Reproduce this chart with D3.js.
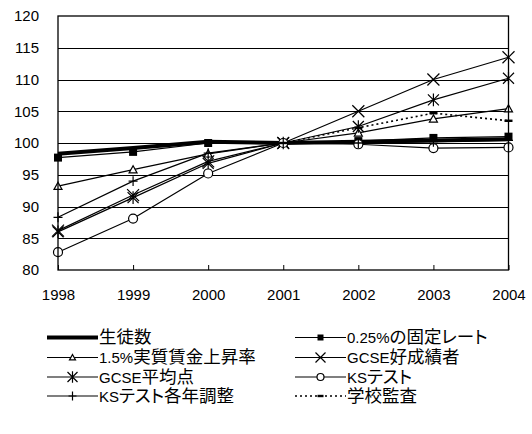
<!DOCTYPE html>
<html>
<head>
<meta charset="utf-8">
<script src="https://cdn.jsdelivr.net/npm/d3@7"></script>
<style>
  html, body { margin: 0; padding: 0; background: #fff; }
  svg { display: block; }
  .cjk { font-family: "Noto Sans CJK JP", sans-serif; font-feature-settings: "palt"; }
  .lat { font-family: "Liberation Sans", Arial, sans-serif; }
</style>
</head>
<body>
<div id="chart"></div>
<script>
// Index values (2001 = 100)
const years = ["1998", "1999", "2000", "2001", "2002", "2003", "2004"];
const yTicks = [80, 85, 90, 95, 100, 105, 110, 115, 120];

const studentCount = [98.3, 99.2, 100.2, 100, 100.2, 100.4, 100.6];
const fixedRate    = [97.7, 98.6, 100.0, 100, 100.3, 100.8, 101.0];
const realWage     = [93.2, 95.8, 98.3, 100, 101.6, 103.8, 105.4];
const gcseGood     = [86.2, 91.8, 97.1, 100, 105.0, 110.0, 113.5];
const gcseAvg      = [86.0, 91.4, 96.8, 100, 102.6, 106.8, 110.2];
const ksTest       = [82.8, 88.1, 95.2, 100, 99.8, 99.2, 99.3];
const ksAdjusted   = [88.3, 94.0, 98.4, 100, 100.0, 100.2, 100.4];
const inspection   = [null, null, null, 100, 102.4, 104.7, 103.5];

const seriesNames = ["生徒数", "0.25%の固定レート", "1.5%実質賃金上昇率", "GCSE好成績者",
                     "GCSE平均点", "KSテスト", "KSテスト各年調整", "学校監査"];

const series = [
  { name: seriesNames[0], values: studentCount, marker: null,       width: 4,   dash: null },
  { name: seriesNames[1], values: fixedRate,    marker: "square",   width: 1.2, dash: null },
  { name: seriesNames[2], values: realWage,     marker: "triangle", width: 1.2, dash: null },
  { name: seriesNames[3], values: gcseGood,     marker: "x",        width: 1.2, dash: null },
  { name: seriesNames[4], values: gcseAvg,      marker: "star",     width: 1.2, dash: null },
  { name: seriesNames[5], values: ksTest,       marker: "circle",   width: 1.2, dash: null },
  { name: seriesNames[6], values: ksAdjusted,   marker: "plus",     width: 1.2, dash: null },
  { name: seriesNames[7], values: inspection,   marker: "dash",     width: 1.6, dash: "2,3" }
];

const W = 532, H = 434;
const plot = { left: 58, right: 508.5, top: 16, bottom: 270 };

const svg = d3.select("#chart").append("svg").attr("width", W).attr("height", H);

const x = d3.scalePoint().domain(years).range([plot.left, plot.right]);
const y = d3.scaleLinear().domain([80, 120]).range([plot.bottom, plot.top]);

// horizontal gridlines
svg.append("g").selectAll("line")
  .data(yTicks.slice(1, -1))
  .join("line")
  .attr("x1", plot.left).attr("x2", plot.right)
  .attr("y1", d => Math.round(y(d)) + 0.5).attr("y2", d => Math.round(y(d)) + 0.5)
  .attr("stroke", "#000").attr("stroke-width", 1);

// y axis labels
const yAxis = d3.axisLeft(y).tickValues(yTicks).tickSize(0).tickPadding(19);
svg.append("g").attr("transform", `translate(${plot.left},0)`).call(yAxis)
  .call(g => g.select(".domain").remove())
  .call(g => g.selectAll("text")
    .attr("font-family", "Liberation Sans, Arial, sans-serif")
    .attr("font-size", 15).attr("fill", "#000"));

// x axis: inward ticks and labels
const xAxis = d3.axisBottom(x).tickSize(-5).tickPadding(19);
svg.append("g").attr("transform", `translate(0,${plot.bottom})`).call(xAxis)
  .call(g => g.select(".domain").remove())
  .call(g => g.selectAll("line").attr("stroke", "#000"))
  .call(g => g.selectAll("text")
    .attr("font-family", "Liberation Sans, Arial, sans-serif")
    .attr("font-size", 15).attr("fill", "#000"));

// marker shapes
function markerPath(type, s) {
  const h = s / 2;
  switch (type) {
    case "square":   return `M${-h},${-h}H${h}V${h}H${-h}Z`;
    case "triangle": return `M0,${-h}L${h},${h * 0.8}H${-h}Z`;
    case "circle":   return `M${h},0A${h},${h} 0 1,1 ${-h},0A${h},${h} 0 1,1 ${h},0Z`;
    case "x":        return `M${-h},${-h}L${h},${h}M${-h},${h}L${h},${-h}`;
    case "star":     return `M${-h},${-h}L${h},${h}M${-h},${h}L${h},${-h}M0,${-h * 1.15}V${h * 1.15}`;
    case "plus":     return `M${-h},0H${h}M0,${-h * 1.1}V${h * 1.1}`;
    case "dash":     return `M${-h},-1.2H${h}V1.2H${-h}Z`;
  }
  return "";
}
function markerStyle(sel, type) {
  if (type === "square" || type === "dash") sel.attr("fill", "#000").attr("stroke", "none");
  else if (type === "triangle" || type === "circle") sel.attr("fill", "#fff").attr("stroke", "#000").attr("stroke-width", 1.2);
  else sel.attr("fill", "none").attr("stroke", "#000").attr("stroke-width", 1.2);
}
const plotSize = { square: 8, triangle: 8, circle: 9, x: 12, star: 11, plus: 9, dash: 8 };
const legendSize = { square: 6, triangle: 6, circle: 7, x: 10, star: 10, plus: 8, dash: 6 };

const line = d3.line()
  .defined(d => d.v != null)
  .x(d => x(d.year)).y(d => y(d.v));

const gSeries = svg.append("g");
series.forEach(s => {
  const pts = s.values.map((v, i) => ({ year: years[i], v }));
  gSeries.append("path")
    .attr("d", line(pts))
    .attr("fill", "none").attr("stroke", "#000")
    .attr("stroke-width", s.width)
    .attr("stroke-dasharray", s.dash)
    .attr("stroke-linejoin", "round");
  if (s.marker) {
    gSeries.append("g").selectAll("path")
      .data(pts.filter(d => d.v != null))
      .join("path")
      .attr("transform", d => `translate(${x(d.year)},${y(d.v)})`)
      .attr("d", markerPath(s.marker, plotSize[s.marker]))
      .call(markerStyle, s.marker);
  }
});

// plot frame
svg.append("rect")
  .attr("x", plot.left).attr("y", plot.top)
  .attr("width", plot.right - plot.left).attr("height", plot.bottom - plot.top)
  .attr("fill", "none").attr("stroke", "#000").attr("stroke-width", 1.3);

// legend: two columns, four rows
const legendCols = [47, 295];
const legendRows = [337.5, 357.5, 377, 396];
const legendLineLen = 51;
const isCJK = ch => /[\u3000-\u30ff\u3400-\u9fff\uff00-\uffef]/.test(ch);

function addRuns(textSel, str) {
  const runs = [];
  for (const ch of str) {
    const c = isCJK(ch);
    if (runs.length && runs[runs.length - 1].cjk === c) runs[runs.length - 1].t += ch;
    else runs.push({ cjk: c, t: ch });
  }
  runs.forEach(r => {
    textSel.append("tspan")
      .attr("class", r.cjk ? "cjk" : "lat")
      .attr("font-size", r.cjk ? 17.5 : 15)
      .text(r.t);
  });
}

const gLegend = svg.append("g");
series.forEach((s, i) => {
  const lx = legendCols[i % 2], ly = legendRows[Math.floor(i / 2)];
  const item = gLegend.append("g").attr("transform", `translate(${lx},${ly})`);
  item.append("line")
    .attr("x1", 0).attr("x2", legendLineLen).attr("y1", 0).attr("y2", 0)
    .attr("stroke", "#000").attr("stroke-width", s.width)
    .attr("stroke-dasharray", s.dash);
  if (s.marker) {
    item.append("path")
      .attr("transform", `translate(${legendLineLen / 2},0)`)
      .attr("d", markerPath(s.marker, legendSize[s.marker]))
      .call(markerStyle, s.marker);
  }
  const t = item.append("text")
    .attr("x", legendLineLen + 1).attr("y", 0)
    .attr("dy", "0.36em").attr("fill", "#000");
  addRuns(t, s.name);
});
</script>
</body>
</html>
